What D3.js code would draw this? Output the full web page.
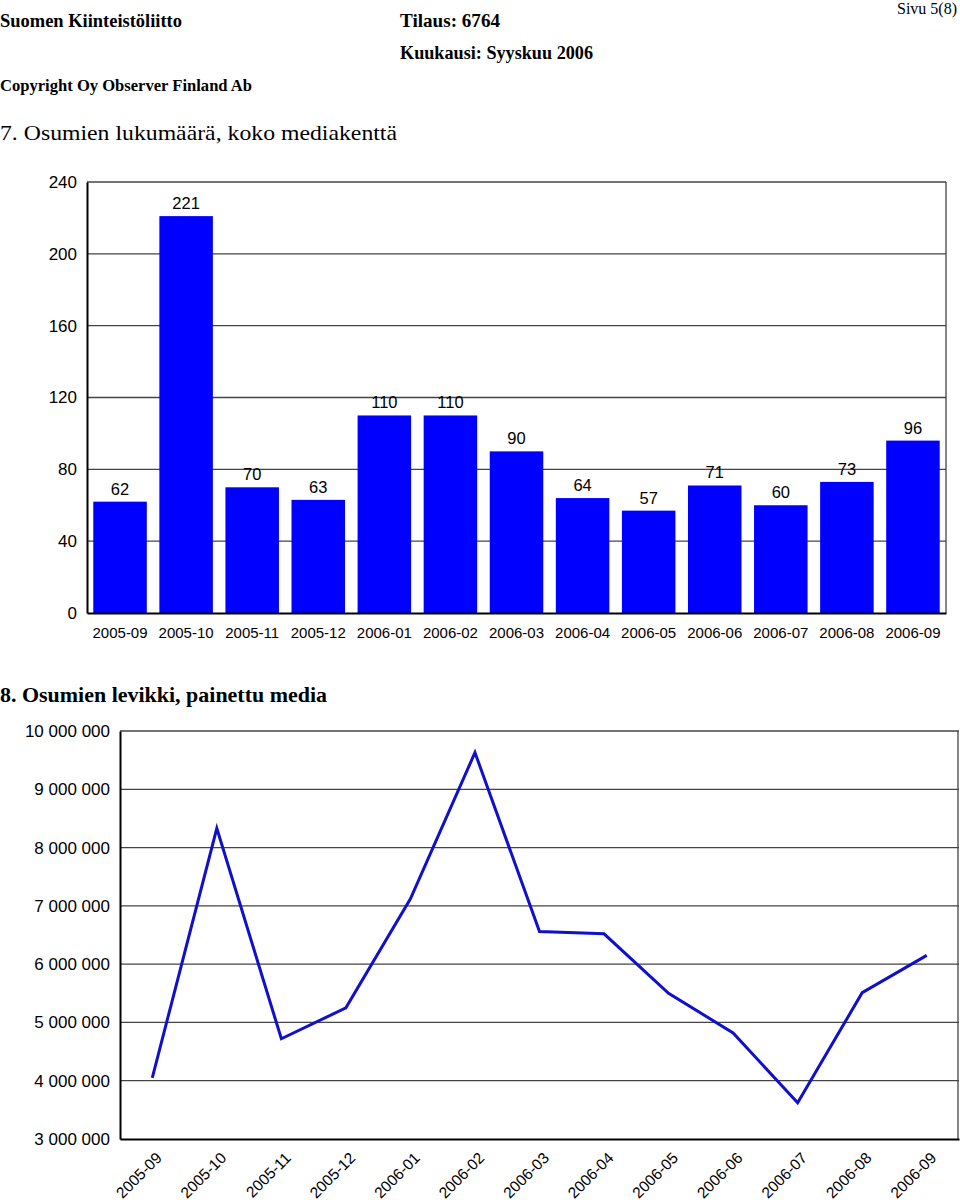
<!DOCTYPE html>
<html><head><meta charset="utf-8">
<script src="https://cdn.jsdelivr.net/npm/d3@7"></script>
<style>body{margin:0;background:#fff}svg{display:block}</style>
</head><body>
<script>
const months = ["2005-09","2005-10","2005-11","2005-12","2006-01","2006-02","2006-03","2006-04","2006-05","2006-06","2006-07","2006-08","2006-09"];
const hitCounts = [62,221,70,63,110,110,90,64,57,71,60,73,96];
const barTicks = [0,40,80,120,160,200,240];
const circulation = [4050000,8330000,4720000,5250000,7120000,9630000,6560000,6520000,5500000,4820000,3620000,5510000,6150000];
const lineTicks = [3000000,4000000,5000000,6000000,7000000,8000000,9000000,10000000];

const svg = d3.select("body").append("svg").attr("width",960).attr("height",1200);
const serif = "'Liberation Serif','Times New Roman',serif";
const sans = "'Liberation Sans',Arial,sans-serif";

function txt(x,y,s,size,weight,len,anchor){
  const t = svg.append("text").attr("x",x).attr("y",y).text(s)
    .attr("font-family",serif).attr("font-size",size).attr("font-weight",weight||"normal")
    .attr("fill","#000").attr("text-anchor",anchor||"start");
  if(len) t.attr("textLength",len).attr("lengthAdjust","spacingAndGlyphs");
  return t;
}
txt(0,27,"Suomen Kiinteistöliitto",18,"bold",182);
txt(400,27,"Tilaus:  6764",18,"bold",100);
txt(400,59,"Kuukausi: Syyskuu 2006",18,"bold",193);
txt(0,91,"Copyright Oy Observer Finland Ab",16,"bold",252);
txt(897,14,"Sivu 5(8)",16,"normal",60);
txt(0,140,"7. Osumien lukumäärä, koko mediakenttä",22,"normal",397);
txt(0,702,"8. Osumien levikki, painettu media",21,"bold",327);

// ---- Bar chart ----
const b = {l:87,t:182,r:946,b:613};
const xb = d3.scaleBand().domain(months).range([b.l,b.r]).paddingInner(0.19).paddingOuter(0.095);
const yb = d3.scaleLinear().domain([0,240]).range([b.b,b.t]);
const gb = svg.append("g");
gb.append("g").selectAll("line").data(barTicks.filter(d=>d>0)).join("line")
  .attr("x1",b.l).attr("x2",b.r).attr("y1",d=>yb(d)).attr("y2",d=>yb(d))
  .attr("stroke","#444").attr("stroke-width",1.3);
gb.append("line").attr("x1",b.r).attr("x2",b.r).attr("y1",b.t).attr("y2",b.b).attr("stroke","#444").attr("stroke-width",1.3);
gb.selectAll("rect.bar").data(hitCounts).join("rect").attr("class","bar")
  .attr("x",(d,i)=>xb(months[i])).attr("width",xb.bandwidth())
  .attr("y",d=>yb(d)).attr("height",d=>yb(0)-yb(d)).attr("fill","#0000ff");
gb.selectAll("text.val").data(hitCounts).join("text").attr("class","val")
  .attr("x",(d,i)=>xb(months[i])+xb.bandwidth()/2).attr("y",d=>yb(d)-7)
  .attr("text-anchor","middle").attr("font-family",sans).attr("font-size",16.5).text(d=>d);
const ayb = gb.append("g").attr("transform",`translate(${b.l},0)`)
  .call(d3.axisLeft(yb).tickValues(barTicks).tickSize(0).tickPadding(10));
ayb.select(".domain").attr("stroke","#000").attr("stroke-width",2);
ayb.selectAll("text").attr("font-family",sans).attr("font-size",17).attr("fill","#000");
const axb = gb.append("g").attr("transform",`translate(0,${b.b})`)
  .call(d3.axisBottom(xb).tickSize(0).tickPadding(14));
axb.select(".domain").attr("stroke","#000").attr("stroke-width",2);
axb.selectAll("text").attr("font-family",sans).attr("font-size",15).attr("fill","#000");

// ---- Line chart ----
const c = {l:120,t:731,r:959,b:1139};
const xl = d3.scalePoint().domain(months).range([c.l,c.r]).padding(0.5);
const yl = d3.scaleLinear().domain([3000000,10000000]).range([c.b,c.t]);
const gl = svg.append("g");
gl.append("g").selectAll("line").data(lineTicks.filter(d=>d>3000000)).join("line")
  .attr("x1",c.l).attr("x2",c.r).attr("y1",d=>yl(d)).attr("y2",d=>yl(d))
  .attr("stroke","#444").attr("stroke-width",1.3);
gl.append("line").attr("x1",c.r-1).attr("x2",c.r-1).attr("y1",c.t).attr("y2",c.b).attr("stroke","#444").attr("stroke-width",1.3);
const fmt = d=>d3.format(",")(d).replace(/,/g," ");
const ayl = gl.append("g").attr("transform",`translate(${c.l},0)`)
  .call(d3.axisLeft(yl).tickValues(lineTicks).tickSize(0).tickPadding(10).tickFormat(fmt));
ayl.select(".domain").attr("stroke","#000").attr("stroke-width",2);
ayl.selectAll("text").attr("font-family",sans).attr("font-size",17).attr("fill","#000");
const axl = gl.append("g").attr("transform",`translate(0,${c.b})`)
  .call(d3.axisBottom(xl).tickSize(0).tickPadding(0));
axl.select(".domain").attr("stroke","#000").attr("stroke-width",2);
axl.selectAll("text").attr("font-family",sans).attr("font-size",15.5).attr("fill","#000")
  .attr("text-anchor","end").attr("dy",0).attr("transform","translate(10,20) rotate(-45)");
gl.append("path").datum(circulation)
  .attr("d",d3.line().x((d,i)=>xl(months[i])).y(d=>yl(d)))
  .attr("fill","none").attr("stroke","#1010cc").attr("stroke-width",3).attr("stroke-linejoin","miter");
</script>
</body></html>
